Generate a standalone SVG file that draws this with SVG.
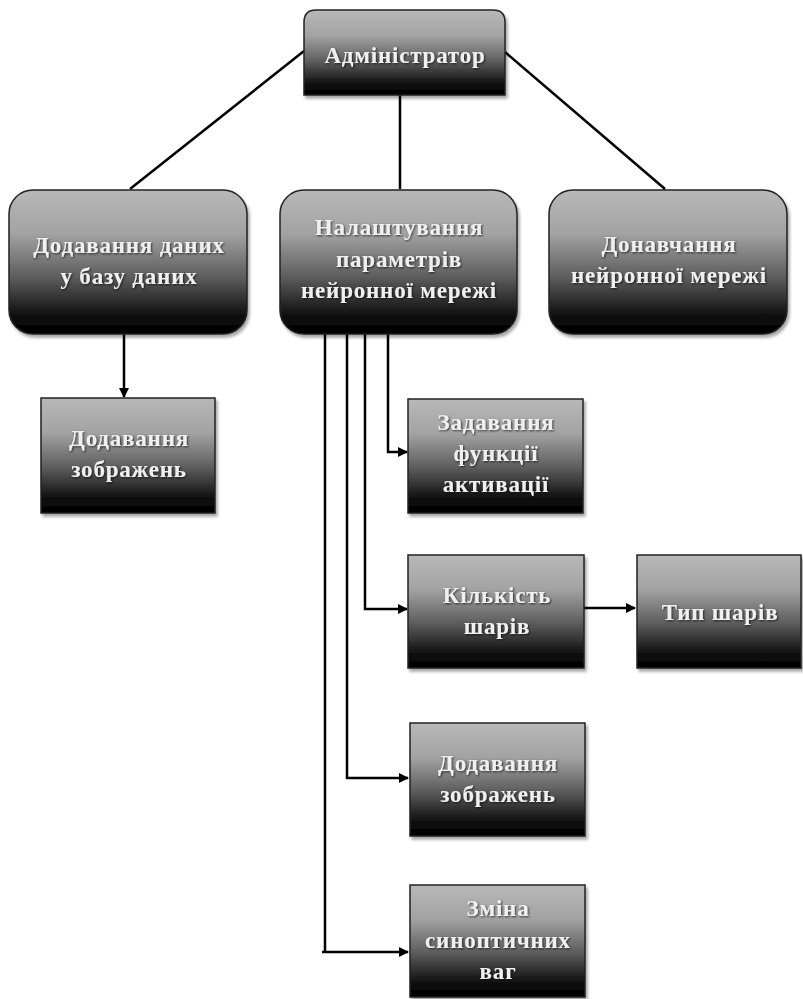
<svg xmlns="http://www.w3.org/2000/svg" width="803" height="999" viewBox="0 0 803 999">
<style>
.box{fill:url(#g);stroke:#222;stroke-width:1.5;filter:url(#sh)}
.t{font-family:"Liberation Serif","Times New Roman",serif;font-weight:bold;font-size:23px;letter-spacing:0.8px;fill:#f0f0f0;text-anchor:middle;filter:url(#ts)}
.c{fill:none;stroke:#000;stroke-width:2.5}
.c2{fill:none;stroke:#000;stroke-width:2.5}
</style>
<defs>
<linearGradient id="g" x1="0" y1="0" x2="0" y2="1">
<stop offset="0" stop-color="#b8b8b8"/>
<stop offset="0.3" stop-color="#a3a3a3"/>
<stop offset="0.6" stop-color="#5e5e5e"/>
<stop offset="0.88" stop-color="#0d0d0d"/>
<stop offset="1" stop-color="#000"/>
</linearGradient>
<filter id="sh" x="-10%" y="-10%" width="120%" height="125%">
<feDropShadow dx="2" dy="3" stdDeviation="1.5" flood-color="#000" flood-opacity="0.35"/>
</filter>
<filter id="ts" x="-10%" y="-20%" width="120%" height="150%">
<feDropShadow dx="1" dy="1" stdDeviation="0.8" flood-color="#000" flood-opacity="0.7"/>
</filter>
<marker id="ar" viewBox="0 0 10 10" refX="9" refY="5" markerWidth="4" markerHeight="4" orient="auto" markerUnits="strokeWidth">
<path d="M0,0 L10,5 L0,10 z" fill="#000"/>
</marker>
</defs>
<g id="connectors">
<line class="c2" x1="304" y1="51" x2="130" y2="189"/>
<line class="c2" x1="505" y1="52" x2="665" y2="189"/>
<line class="c2" x1="400" y1="95" x2="400" y2="189"/>
<line class="c" x1="124" y1="334" x2="124" y2="397" marker-end="url(#ar)"/>
<polyline class="c" points="388,334 388,452 407,452" marker-end="url(#ar)"/>
<polyline class="c" points="365,334 365,609 407,609" marker-end="url(#ar)"/>
<line class="c" x1="584" y1="608" x2="635" y2="608" marker-end="url(#ar)"/>
<polyline class="c" points="347,334 347,778 408,778" marker-end="url(#ar)"/>
<polyline class="c" points="325,334 325,952 322,952 408,952" marker-end="url(#ar)"/>
</g>
<g id="admin">
<path class="box" d="M316,10 H493 Q505,10 505,22 V95 H304 V22 Q304,10 316,10 Z"/>
<text class="t" x="405" y="63">Адміністратор</text>
</g>
<g id="add-data">
<rect class="box" x="9" y="190" width="238" height="144" rx="24"/>
<text class="t" x="129" y="253">Додавання даних</text>
<text class="t" x="129" y="284">у базу даних</text>
</g>
<g id="settings">
<rect class="box" x="280" y="190" width="237" height="144" rx="24"/>
<text class="t" x="399" y="235">Налаштування</text>
<text class="t" x="399" y="267">параметрів</text>
<text class="t" x="399" y="298">нейронної мережі</text>
</g>
<g id="retrain">
<rect class="box" x="549" y="190" width="238" height="144" rx="24"/>
<text class="t" x="669" y="252">Донавчання</text>
<text class="t" x="669" y="283">нейронної мережі</text>
</g>
<g id="add-images-1">
<rect class="box" x="41" y="398" width="174" height="115"/>
<text class="t" x="129" y="446">Додавання</text>
<text class="t" x="129" y="477">зображень</text>
</g>
<g id="activation">
<rect class="box" x="408" y="399" width="175" height="114"/>
<text class="t" x="496" y="430">Задавання</text>
<text class="t" x="496" y="461">функції</text>
<text class="t" x="496" y="492">активації</text>
</g>
<g id="layers-count">
<rect class="box" x="408" y="555" width="176" height="113"/>
<text class="t" x="497" y="603">Кількість</text>
<text class="t" x="497" y="634">шарів</text>
</g>
<g id="layer-type">
<rect class="box" x="637" y="555" width="164" height="113"/>
<text class="t" x="720" y="620">Тип шарів</text>
</g>
<g id="add-images-2">
<rect class="box" x="410" y="723" width="175" height="113"/>
<text class="t" x="498" y="771">Додавання</text>
<text class="t" x="498" y="802">зображень</text>
</g>
<g id="weights">
<rect class="box" x="410" y="885" width="175" height="112"/>
<text class="t" x="498" y="916">Зміна</text>
<text class="t" x="498" y="948">синоптичних</text>
<text class="t" x="498" y="979">ваг</text>
</g>
</svg>
